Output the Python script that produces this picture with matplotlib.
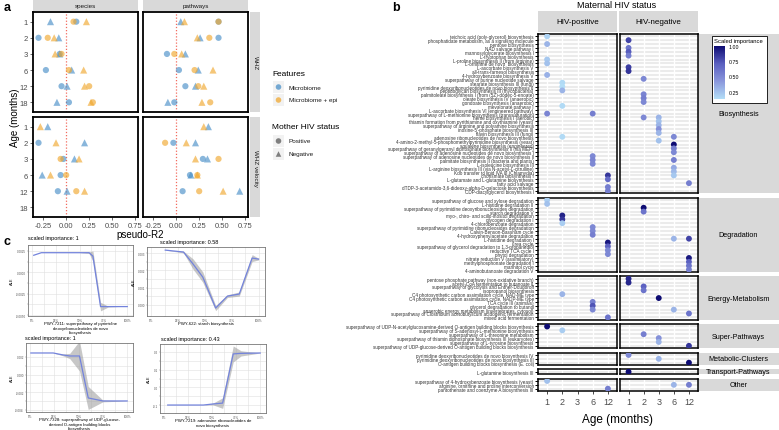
import numpy as np
import matplotlib
matplotlib.use('Agg')
import matplotlib.pyplot as plt
from matplotlib.colors import LinearSegmentedColormap, Normalize
from matplotlib.patches import Rectangle
from matplotlib.cm import ScalarMappable

plt.rcParams['font.family'] = ['Liberation Sans', 'DejaVu Sans']

W, H = 779, 431
nan = np.nan

# ---------------- panel a data (pseudo-R2) ----------------
ages_a = ['1', '2', '3', '6', '12', '18']

sp_whz_mb_pos = [0.11, -0.30, -0.07, -0.22, -0.05, 0.03]
sp_whz_mb_neg = [-0.17, -0.08, -0.07, 0.06, 0.01, -0.10]
sp_whz_epi_pos = [0.08, -0.20, -0.05, 0.03, 0.25, 0.29]
sp_whz_epi_neg = [0.22, -0.13, -0.12, 0.19, 0.20, 0.27]

pw_whz_mb_pos = [0.46, 0.46, -0.10, 0.03, 0.10, -0.02]
pw_whz_mb_neg = [0.05, 0.26, 0.10, 0.24, 0.21, -0.09]
pw_whz_epi_pos = [0.46, 0.36, -0.02, 0.20, 0.24, 0.37]
pw_whz_epi_neg = [0.09, 0.23, 0.06, 0.40, 0.30, 0.28]

sp_vel_mb_pos = [nan, -0.30, -0.03, -0.06, -0.09, nan]
sp_vel_mb_neg = [-0.20, 0.20, 0.09, -0.26, 0.01, nan]
sp_vel_epi_pos = [nan, nan, -0.06, 0.00, 0.11, nan]
sp_vel_epi_neg = [-0.28, -0.11, 0.14, -0.17, 0.20, nan]

pw_vel_mb_pos = [nan, -0.03, 0.29, 0.15, 0.07, nan]
pw_vel_mb_neg = [0.35, 0.21, 0.34, 0.16, 0.69, nan]
pw_vel_epi_pos = [nan, -0.12, 0.46, 0.23, 0.25, nan]
pw_vel_epi_neg = [0.30, 0.11, 0.21, 0.23, 0.51, nan]

# ---------------- panel b data (scaled importance) ----------------
ages_b = ['1', '2', '3', '6', '12']

bio_paths = [
    'teichoic acid (poly-glycerol) biosynthesis',
    'phosphatidate metabolism, as a signaling molecule',
    'pentose biosynthesis',
    'NAD salvage pathway I',
    'mannosylglycerate biosynthesis I',
    'L-tryptophan biosynthesis',
    'L-proline biosynthesis II (from arginine)',
    'L-ornithine de novo  biosynthesis',
    'L-ascorbate biosynthesis V',
    'all-trans-farnesol biosynthesis',
    '4-hydroxybenzoate biosynthesis V',
    'superpathway of purine nucleotide salvage',
    'stearate biosynthesis III (fungi)',
    'pyrimidine deoxyribonucleotides de novo biosynthesis II',
    'peptidoglycan biosynthesis III (mycobacteria)',
    'palmitoleate biosynthesis I (from (5Z)-dodec-5-enoate)',
    'oleate biosynthesis IV (anaerobic)',
    'gondoate biosynthesis (anaerobic)',
    'mevalonate pathway I',
    'L-ascorbate biosynthesis VI (engineered pathway)',
    'superpathway of L-methionine biosynthesis (transsulfuration)',
    'heme biosynthesis I (aerobic)',
    'thiamin formation from pyrithiamine and oxythiamine (yeast)',
    'superpathway of arginine and polyamine biosynthesis',
    "inosine-5'-phosphate biosynthesis III",
    'flavin biosynthesis III (fungi)',
    'adenosine ribonucleotides de novo biosynthesis',
    '4-amino-2-methyl-5-phosphomethylpyrimidine biosynthesis (yeast)',
    'squalene biosynthesis (engineered)',
    'superpathway of geranylgeranyl diphosphate biosynthesis II (via MEP)',
    'superpathway of adenosine nucleotides de novo biosynthesis I',
    'superpathway of adenosine nucleotides de novo biosynthesis II',
    'palmitate biosynthesis II (bacteria and plants)',
    'L-isoleucine biosynthesis III',
    'L-arginine biosynthesis III (via N-acetyl-L-citrulline)',
    'Kdo transfer to lipid IVA III (Chlamydia)',
    'chorismate biosynthesis I',
    'L-glutamate and L-glutamine biosynthesis',
    'fatty acid salvage',
    'dTDP-3-acetamido-3,6-dideoxy-alpha-D-galactose biosynthesis',
    'CDP-diacylglycerol biosynthesis I',
]
deg_paths = [
    'superpathway of glucose and xylose degradation',
    'L-histidine degradation II',
    'superpathway of pyrimidine deoxyribonucleosides degradation',
    'starch degradation V',
    'myo-, chiro- and scillo-inositol degradation',
    'glycogen degradation I',
    '4-chlorobenzoate degradation',
    'superpathway of pyrimidine ribonucleosides degradation',
    'Calvin-Benson-Bassham cycle',
    '4-hydroxyphenylacetate degradation',
    'L-histidine degradation I',
    'urea cycle',
    'superpathway of glycerol degradation to 1,3-propanediol',
    'reductive TCA cycle I',
    'phytol degradation',
    'nitrate reduction V (assimilatory)',
    'methylphosphonate degradation I',
    'mannitol cycle',
    '4-aminobutanoate degradation V',
]
en_paths = [
    'pentose phosphate pathway (non-oxidative branch)',
    'acetyl-CoA fermentation to butanoate II',
    'superpathway of glycolysis and Entner-Doudoroff',
    'isopropanol biosynthesis',
    'C4 photosynthetic carbon assimilation cycle, NAD-ME type',
    'C4 photosynthetic carbon assimilation cycle, NADP-ME type',
    'TCA cycle III (animals)',
    'glycerol degradation to butanol',
    'anaerobic energy metabolism (invertebrates, cytosol)',
    'superpathway of Clostridium acetobutylicum acidogenic fermentation',
    'mixed acid fermentation',
]
sup_paths = [
    'superpathway of UDP-N-acetylglucosamine-derived O-antigen building blocks biosynthesis',
    'superpathway of S-adenosyl-L-methionine biosynthesis',
    'superpathway of L-threonine metabolism',
    'superpathway of thiamin diphosphate biosynthesis III (eukaryotes)',
    'superpathway of L-tyrosine biosynthesis',
    'superpathway of UDP-glucose-derived O-antigen building blocks biosynthesis',
]
met_paths = [
    'pyrimidine deoxyribonucleotides de novo biosynthesis IV',
    'pyrimidine deoxyribonucleotides de novo biosynthesis III',
    'O-antigen building blocks biosynthesis (E. coli)',
]
tra_paths = ['L-glutamine biosynthesis III']
oth_paths = [
    'superpathway of 4-hydroxybenzoate biosynthesis (yeast)',
    'arginine, ornithine and proline interconversion',
    'pantothenate and coenzyme A biosynthesis III',
]

# (pathway row, age, scaled importance)
bio_pos = [(0, '1', 0.18), (2, '1', 0.30), (6, '1', 0.22), (7, '1', 0.25), (10, '1', 0.32),
           (12, '2', 0.15), (13, '2', 0.13), (14, '2', 0.30), (18, '2', 0.15),
           (20, '1', 0.52), (20, '6', 0.55), (26, '2', 0.15),
           (31, '6', 0.50), (32, '6', 0.52), (33, '6', 0.50),
           (36, '12', 0.85), (37, '12', 0.65), (39, '12', 0.55), (40, '12', 0.55)]
bio_neg = [(1, '1', 0.80), (3, '1', 0.60), (4, '1', 0.72), (5, '1', 0.55), (8, '1', 0.82), (9, '1', 0.85),
           (11, '2', 0.50), (15, '2', 0.52), (16, '2', 0.55), (17, '2', 0.50), (21, '2', 0.50),
           (21, '3', 0.30), (22, '3', 0.25), (23, '3', 0.30), (24, '3', 0.45), (25, '3', 0.30), (27, '3', 0.25),
           (26, '6', 0.50), (28, '6', 1.00), (29, '6', 0.55), (30, '6', 0.50), (32, '6', 0.55),
           (34, '6', 0.35), (35, '6', 0.28), (36, '6', 0.22), (38, '12', 0.55)]
deg_pos = [(0, '1', 0.20), (1, '1', 0.25), (4, '2', 0.92), (5, '2', 0.85), (6, '2', 0.20),
           (7, '6', 0.50), (8, '6', 0.50), (9, '6', 0.55),
           (11, '12', 0.95), (12, '12', 0.70), (13, '12', 0.50), (14, '12', 0.50)]
deg_neg = [(2, '2', 1.00), (3, '2', 0.60), (10, '6', 0.30), (10, '12', 0.80),
           (15, '12', 0.95), (16, '12', 0.70), (17, '12', 0.60), (18, '12', 0.55)]
en_pos = [(4, '2', 0.30), (6, '6', 0.55), (7, '6', 0.75), (8, '6', 0.50), (10, '12', 0.60)]
en_neg = [(0, '1', 0.90), (1, '1', 0.90), (2, '2', 0.70), (3, '2', 0.60), (5, '3', 1.00),
          (8, '6', 0.30), (9, '12', 0.60)]
sup_pos = [(0, '1', 1.00), (1, '2', 0.20)]
sup_neg = [(2, '2', 0.55), (3, '3', 0.45), (4, '3', 0.30), (5, '12', 0.85)]
met_pos = []
met_neg = [(0, '1', 0.50), (1, '3', 0.30), (2, '12', 1.00)]
tra_pos = []
tra_neg = [(0, '1', 1.00)]
oth_pos = [(0, '1', 0.25), (2, '12', 0.55)]
oth_neg = [(1, '6', 0.30), (1, '12', 0.55)]

# ---------------- panel c data (ALE curves) ----------------
c1_q = [2, 10, 20, 30, 40, 50, 60, 64, 72, 80, 90, 100]
c1_ale = [0.0020, 0.0023, 0.0023, 0.0023, 0.0023, 0.0023, 0.0023, 0.0019, -0.0040, -0.0040, -0.0040, -0.0040]
c1_band = [0, 0, 0, 0, 0, 0, 0.0001, 0.0006, 0.0005, 0.00005, 0, 0]
c2_q = [13, 30, 39, 48, 60, 71, 82, 94, 100]
c2_ale = [0.00317, 0.00306, 0.00236, 0.00161, -0.00018, 0.00051, 0.00063, 0.00271, 0.00265]
c2_band = [0, 0.00005, 0.0003, 0.0003, 0.00015, 0.00008, 0.00012, 0.0002, 0.00005]
c3_q = [1, 24, 34, 41, 51, 60, 75, 100]
c3_ale = [0.00245, 0.00245, 0.00223, 0.00211, 0.00211, -0.00264, -0.00298, -0.00298]
c3_band = [0, 0, 0.0001, 0.0003, 0.0017, 0.0013, 0.0001, 0]
c4_q = [4, 27, 41, 51, 61, 72, 80, 100]
c4_ale = [-0.100, -0.100, -0.100, -0.094, -0.089, 0.189, 0.192, 0.194]
c4_band = [0, 0, 0, 0.005, 0.03, 0.045, 0.015, 0]


def box(x0, y0, x1, y1):
    return [x0 / W, 1 - y1 / H, (x1 - x0) / W, (y1 - y0) / H]


fig = plt.figure(figsize=(7.79, 4.31), dpi=100, facecolor='white')
ov = fig.add_axes([0, 0, 1, 1])
ov.set_xlim(0, W)
ov.set_ylim(H, 0)
ov.axis('off')

STRIP = '#D9D9D9'
BLUE = '#4A90C8'
ORANGE = '#F0A830'

# ================= panel a =================
ov.text(4, 8, 'a', fontsize=9, fontweight='bold', va='center')
panels_a = {
    ('species', 'WHZ'): [sp_whz_mb_pos, sp_whz_mb_neg, sp_whz_epi_pos, sp_whz_epi_neg],
    ('pathways', 'WHZ'): [pw_whz_mb_pos, pw_whz_mb_neg, pw_whz_epi_pos, pw_whz_epi_neg],
    ('species', 'WHZ velocity'): [sp_vel_mb_pos, sp_vel_mb_neg, sp_vel_epi_pos, sp_vel_epi_neg],
    ('pathways', 'WHZ velocity'): [pw_vel_mb_pos, pw_vel_mb_neg, pw_vel_epi_pos, pw_vel_epi_neg],
}
styles = [(BLUE, 'o', 20), (BLUE, '^', 26), (ORANGE, 'o', 20), (ORANGE, '^', 26)]
ypos = np.arange(len(ages_a))
for ri, row in enumerate(['WHZ', 'WHZ velocity']):
    y0 = 13 + ri * 105
    ov.add_patch(Rectangle((250.5, y0), 10, 100, color=STRIP, lw=0))
    ov.text(255.5, y0 + 50, row, rotation=-90, fontsize=4.5, ha='center', va='center', color='#1A1A1A')
    for ci, col in enumerate(['species', 'pathways']):
        x0 = 33 + ci * 110
        if ri == 0:
            ov.add_patch(Rectangle((x0, 0), 105, 12, color=STRIP, lw=0))
            ov.text(x0 + 52.5, 6.5, col, fontsize=4.5, ha='center', va='center', color='#1A1A1A')
        ax = fig.add_axes(box(x0, y0, x0 + 105, y0 + 100))
        ax.axvline(0, color='#F36B5E', ls=(0, (1, 1.5)), lw=0.9, zorder=1)
        for vals, (c, m, s) in zip(panels_a[(col, row)], styles):
            ax.scatter(vals, ypos, s=s, marker=m, color=c, alpha=0.65, edgecolors='none', zorder=3)
        ax.set_xlim(-0.36, 0.78)
        ax.set_ylim(len(ages_a) - 0.4, -0.6)
        ax.set_yticks(ypos)
        ax.set_xticks([-0.25, 0, 0.25, 0.5, 0.75])
        ax.set_yticklabels(ages_a if ci == 0 else [], fontsize=5.5, color='#4D4D4D')
        ax.set_xticklabels(['-0.25', '0.00', '0.25', '0.50', '0.75'] if ri == 1 else [],
                           fontsize=5.5, color='#4D4D4D')
        ax.tick_params(length=2, width=0.5, color='#333333', pad=1.5)
        if ci == 1:
            ax.tick_params(axis='y', length=0)
        if ri == 0:
            ax.tick_params(axis='x', length=0)
        for sp in ax.spines.values():
            sp.set_linewidth(1.3)
ov.text(140, 235, 'pseudo-R2', fontsize=7, ha='center', va='center')
ov.text(15, 118, 'Age (months)', fontsize=7, rotation=90, ha='center', va='center')

# legends
ov.text(272, 75, 'Features', fontsize=6, va='center')
ov.text(272, 128, 'Mother HIV status', fontsize=6, va='center')
for ky, lab, c, m in [(88, 'Microbiome', BLUE, 'o'), (101, 'Microbiome + epi', ORANGE, 'o'),
                      (142, 'Positive', '#7F7F7F', 'o'), (155, 'Negative', '#7F7F7F', '^')]:
    ov.add_patch(Rectangle((273, ky - 6), 11, 12, color='#F2F2F2', lw=0))
    ov.scatter([278.5], [ky], s=16, marker=m, color=c, alpha=0.75 if c != '#7F7F7F' else 1,
               edgecolors='none')
    ov.text(289, ky, lab, fontsize=4.6, va='center', color='#1A1A1A')

# ================= panel b =================
ov.text(392, 8, 'b', fontsize=9, fontweight='bold', va='center')
facets = [
    ('Biosynthesis', bio_paths, bio_pos, bio_neg),
    ('Degradation', deg_paths, deg_pos, deg_neg),
    ('Energy-Metabolism', en_paths, en_pos, en_neg),
    ('Super-Pathways', sup_paths, sup_pos, sup_neg),
    ('Metabolic-Clusters', met_paths, met_pos, met_neg),
    ('Transport-Pathways', tra_paths, tra_pos, tra_neg),
    ('Other', oth_paths, oth_pos, oth_neg),
]
all_imp = [d[2] for f in facets for d in f[2] + f[3]]
norm = Normalize(vmin=min(all_imp), vmax=max(all_imp))
cmap = LinearSegmentedColormap.from_list('imp', ['#B3DEF7', '#8A97DC', '#5A5FC0', '#0D0B72'])

top, bottom, gap = 35, 392, 4.5
units = [len(f[1]) + 0.2 for f in facets]
scale = (bottom - top - gap * (len(facets) - 1)) / sum(units)

ov.text(617, 5, 'Maternal HIV status', fontsize=6.5, ha='center', va='center')
for x0, x1, lab in [(538, 617, 'HIV-positive'), (619.5, 698, 'HIV-negative')]:
    ov.add_patch(Rectangle((x0, 12), x1 - x0, 21, color=STRIP, lw=0))
    ov.text((x0 + x1) / 2, 23, lab, fontsize=5.8, ha='center', va='center')

y0 = top
for fi, (name, paths, pos, neg) in enumerate(facets):
    y1 = y0 + units[fi] * scale
    ov.add_patch(Rectangle((698.5, y0), 80.5, y1 - y0, color=STRIP, lw=0, zorder=1))
    ov.text(738.5, (y0 + y1) / 2, name, fontsize=5.2, ha='center', va='center', zorder=2)
    n = len(paths)
    for gi, (x0, x1, dots) in enumerate([(538, 617, pos), (619.5, 698, neg)]):
        ax = fig.add_axes(box(x0, y0, x1, y1))
        for i in range(n):
            ax.axhline(i, color='#EBEBEB', lw=1.5, zorder=0)
        for j in range(len(ages_b)):
            ax.axvline(j, color='white', lw=1.0, zorder=0.5)
        if dots:
            rows = [d[0] for d in dots]
            xs = [ages_b.index(d[1]) for d in dots]
            cs = [d[2] for d in dots]
            ax.scatter(xs, rows, c=cs, cmap=cmap, norm=norm, s=18, edgecolors='none', zorder=3)
        ax.set_xlim(-0.6, len(ages_b) - 0.4)
        ax.set_ylim(n - 0.4, -0.6)
        if gi == 0:
            ax.set_yticks(range(n))
            ax.set_yticklabels(paths, fontsize=3.3, color='#333333')
            ax.tick_params(axis='y', length=2.5, width=0.7, pad=0.5)
        else:
            ax.set_yticks([])
        if fi == len(facets) - 1:
            ax.set_xticks(range(len(ages_b)))
            ax.set_xticklabels(ages_b, fontsize=6.5, color='#4D4D4D')
            ax.tick_params(axis='x', length=2, width=0.5, pad=2)
        else:
            ax.set_xticks([])
        for sp in ax.spines.values():
            sp.set_linewidth(1.1)
    y0 = y1 + gap
ov.text(618, 420, 'Age (months)', fontsize=8.5, ha='center', va='center')

# colour legend
ov.add_patch(Rectangle((712, 37), 55, 67, facecolor='white', edgecolor='black', lw=0.6, zorder=3))
ov.text(714, 42, 'Scaled importance', fontsize=4.2, va='center', zorder=4)
cax = fig.add_axes(box(714, 47, 725, 100))
cb = fig.colorbar(ScalarMappable(norm=norm, cmap=cmap), cax=cax)
cb.outline.set_visible(False)
cb.set_ticks([0.25, 0.5, 0.75, 1.0])
cb.set_ticklabels(['0.25', '0.50', '0.75', '1.00'])
cax.tick_params(labelsize=3.8, length=1.5, width=0.4, color='white', pad=1)

# ================= panel c =================
ov.text(4, 242, 'c', fontsize=9, fontweight='bold', va='center')
ale_plots = [
    ((28, 246, 133, 317), c1_q, c1_ale, c1_band, (-0.0051, 0.0032), [-0.005, -0.0025, 0.0, 0.0025], '%.4f',
     'scaled importance: 1', (28, 239),
     ['Prediction: WHZ velocity', 'Maternal HIV: Positive', 'Age: 3 months'], (32, 288, 7), 3.8,
     'PWY-7211: superpathway of pyrimidine\ndeoxyribonucleotides de novo\nbiosynthesis'),
    ((147, 248, 265, 317), c2_q, c2_ale, c2_band, (-0.00064, 0.00335), [0.0, 0.001, 0.002, 0.003], '%.3f',
     'scaled importance: 0.58', (160, 243),
     ['Prediction: WHZ velocity', 'Maternal HIV: Positive', 'Age: 3 months'], (165, 297, 5.5), 3.0,
     'PWY-622: starch biosynthesis'),
    ((26, 344, 133, 413), c3_q, c3_ale, c3_band, (-0.00423, 0.00358), [-0.004, -0.002, 0.0, 0.002], '%.3f',
     'scaled importance: 1', (25, 339),
     ['Prediction: WHZ velocity', 'Maternal HIV: Negative', 'Age: 3 months'], (31, 391, 7), 3.8,
     'PWY-7328: superpathway of UDP-glucose-\nderived O-antigen building blocks\nbiosynthesis'),
    ((160, 345, 266, 414), c4_q, c4_ale, c4_band, (-0.145, 0.245), [-0.1, 0.0, 0.1, 0.2], '%.1f',
     'scaled importance: 0.43', (161, 340),
     ['Prediction: WHZ', 'Maternal HIV: Negative', 'Age: 6 months'], (167, 348, 8), 4.3,
     'PWY-7219: adenosine ribonucleotides de\nnovo biosynthesis'),
]
for (bx, q, ale, band, ylim, yt, fmt, title, tpos, info, ipos, ifs, xlab) in ale_plots:
    ax = fig.add_axes(box(*bx))
    q = np.array(q)
    ale = np.array(ale)
    band = np.array(band)
    ax.fill_between(q, ale - band, ale + band, color='#9A9A9A', alpha=0.55, lw=0, zorder=2)
    ax.plot(q, ale, color='#7383DC', lw=0.9, zorder=3)
    ax.set_xlim(-4, 106)
    ax.set_ylim(*ylim)
    ax.set_xticks([0, 25, 50, 75, 100])
    ax.set_xticks([12.5, 37.5, 62.5, 87.5], minor=True)
    ax.set_xticklabels(['0%', '25%', '50%', '75%', '100%'], fontsize=2.2, color='#555555')
    ax.set_yticks(yt)
    ax.set_yticklabels([fmt % v for v in yt], fontsize=2.2, color='#555555')
    ax.set_yticks([(a + b) / 2 for a, b in zip(yt[:-1], yt[1:])], minor=True)
    ax.grid(True, which='both', color='#E0E0E0', lw=0.4, zorder=0)
    ax.tick_params(which='both', length=1, width=0.3, color='#888888', pad=0.6)
    ax.set_ylabel('ALE', fontsize=2.8, labelpad=1)
    for sp in ax.spines.values():
        sp.set_linewidth(0.6)
        sp.set_color('#777777')
    ov.text(tpos[0], tpos[1], title, fontsize=4, va='center')
    for k, line in enumerate(info):
        ov.text(ipos[0], ipos[1] + k * ipos[2], line, fontsize=ifs, va='center', zorder=5)
    ov.text((bx[0] + bx[2]) / 2, bx[3] + 5.5, xlab, fontsize=3.1, ha='center', va='top',
            linespacing=1.05)

ov.set_zorder(0)
ov.patch.set_visible(False)
fig.savefig('out.png', dpi=100, facecolor='white')
